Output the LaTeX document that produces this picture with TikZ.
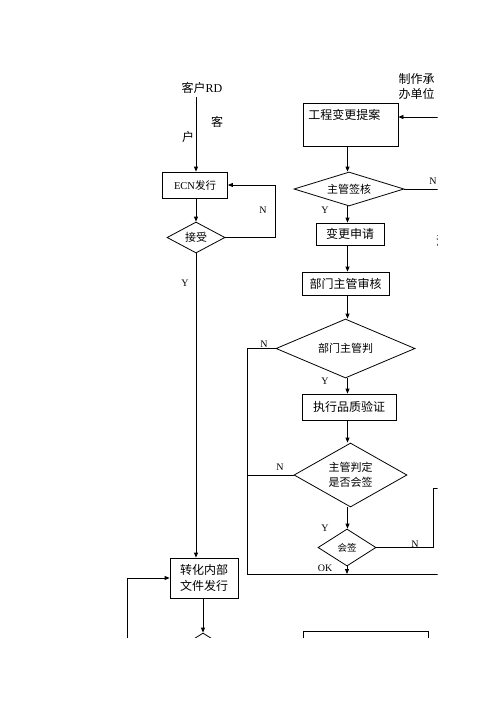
\documentclass[tikz,border=0pt]{standalone}
\usepackage{fontspec}
\setmainfont{Liberation Serif}
\newfontfamily\cjk{Noto Sans CJK SC}
\usetikzlibrary{shapes.geometric,arrows.meta}

\begin{document}
\begin{tikzpicture}[x=1pt, y=-1pt, line width=0.8pt,
    >={Triangle[length=5pt,width=4pt]},
    cjkt/.style={font=\cjk\fontsize{12}{15}\selectfont},
    box/.style={draw, rectangle, inner sep=2pt, font=\cjk\fontsize{12}{15.5}\selectfont},
    decision/.style={draw, diamond, aspect=2, inner sep=0pt, font=\cjk\fontsize{11}{15}\selectfont},
    yn/.style={font=\fontsize{10}{12}\selectfont, inner sep=1pt}]
    \useasboundingbox (0,0) rectangle (496,702);
    \begin{scope}
    \clip (0,0) rectangle (437.5,637);

    % Customer side
    \node[font=\fontsize{12}{14}\selectfont] (client) at (202,88) {{\cjk 客户}RD};
    \node[cjkt] (ke) at (217,122) {客};
    \node[cjkt] (hu) at (188,137) {户};
    \node[box, minimum width=65pt, minimum height=26pt, font=\fontsize{10.5}{12}\selectfont] (ecn) at (195,185) {ECN{\cjk 发行}};
    \node[decision, minimum width=58pt, minimum height=31pt] (accept) at (196,237.5) {接受};
    \node[box, minimum width=68pt, minimum height=40pt, align=left] (conv) at (204,578) {转化内部\\文件发行};
    \node[decision, minimum width=80pt, minimum height=50pt] (dist) at (203,658) {};

    % Maker side
    \node[cjkt, align=left, anchor=north west] (maker) at (395,70) {制作承\\办单位};
    \node[box, minimum width=95pt, minimum height=43pt,
        label={[cjkt, anchor=north west, xshift=2pt, yshift=-3pt]north west:工程变更提案}] (propose) at (350.5,124.5) {};
    \node[decision, aspect=3, minimum width=110pt, minimum height=34pt] (check) at (349,189) {主管签核};
    \node[box, minimum width=68pt, minimum height=22pt] (apply) at (350,234) {变更申请};
    \node[cjkt] (note) at (442,241) {注};
    \node[box, minimum width=87pt, minimum height=23pt] (dept) at (345.5,283.5) {部门主管审核};
    \node[decision, minimum width=139pt, minimum height=59pt] (judge) at (345.5,348.5) {部门主管判};
    \node[box, minimum width=94pt, minimum height=26pt] (verify) at (349,407) {执行品质验证};
    \node[decision, minimum width=113pt, minimum height=64pt, align=center] (decide) at (350.5,475) {主管判定\\是否会签};
    \node[decision, minimum width=58pt, minimum height=37pt, font=\cjk\fontsize{9.5}{11}\selectfont] (sign) at (347,547.5) {会签};
    \node[box, minimum width=125pt, minimum height=58pt] (final) at (365.5,660) {};

    % Free ends
    \coordinate (col) at (347.5,0);
    \coordinate (okL) at (247,574);
    \coordinate (okR) at (445,574);
    \coordinate (makerIn) at (445,117);
    \coordinate (loopIn) at (127,650);
    \coordinate (signUp) at (433,488);
    \coordinate (signOut) at (445,488);

    % Left flow
    \draw[->] (client.south -| accept.north) -- (ecn.north -| accept.north);
    \draw[->] (ecn.south -| accept.north) -- (accept.north);
    \draw[->] (accept.east) -- ++(50,0) |- (ecn.east);
    \draw[->] (accept.south) -- (accept.south |- conv.north);
    \draw[->] (loopIn) |- (conv.west);
    \draw[->] (conv.south -| dist.north) -- (dist.north);

    % Right flow
    \draw[->] (makerIn) -- (makerIn -| propose.east);
    \draw[->] (propose.south -| col) -- (check.north -| col);
    \draw (check.east) -- ++(45,0);
    \draw[->] (check.south -| col) -- (apply.north -| col);
    \draw[->] (apply.south -| col) -- (dept.north -| col);
    \draw[->] (dept.south -| col) -- (judge.north -| col);
    \draw (judge.west) -| (okL);
    \draw[->] (judge.south -| col) -- (verify.north -| col);
    \draw[->] (verify.south -| col) -- (decide.north -| col);
    \draw (decide.west) -- (decide.west -| okL);
    \draw[->] (decide.south -| col) -- (sign.north -| col);
    \draw (sign.east) -- (sign.east -| signUp) -- (signUp) -- (signOut);
    \draw (okL) -- (okR);
    \draw[->] (sign.south) -- (sign.south |- okL);

    % Y / N labels
    \node[yn] (nAccept) at (263,210) {N};
    \node[yn] (yAccept) at (185,283) {Y};
    \node[yn] (nCheck) at (433,181) {N};
    \node[yn] (yCheck) at (325,210) {Y};
    \node[yn] (nJudge) at (264,344) {N};
    \node[yn] (yJudge) at (325,381) {Y};
    \node[yn] (nDecide) at (280,467) {N};
    \node[yn] (yDecide) at (325,528) {Y};
    \node[yn] (nSign) at (415,544) {N};
    \node[yn] (okSign) at (325,568) {OK};
    \end{scope}
\end{tikzpicture}
\end{document}
